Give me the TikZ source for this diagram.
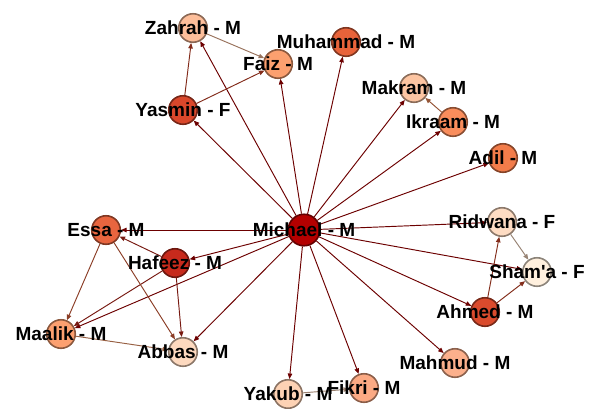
\documentclass[tikz,border=0pt]{standalone}
\usepackage{fontspec}
\setmainfont{Liberation Sans}
\usetikzlibrary{arrows.meta,backgrounds}
\definecolor{cMichael}{HTML}{B40000}
\definecolor{cHafeez}{HTML}{C72A1C}
\definecolor{cYasmin}{HTML}{D9472B}
\definecolor{cAhmed}{HTML}{DA4B2D}
\definecolor{cEssa}{HTML}{E8653F}
\definecolor{cMuhammad}{HTML}{E8633A}
\definecolor{cAdil}{HTML}{F27C4A}
\definecolor{cIkraam}{HTML}{F98D5C}
\definecolor{cFaiz}{HTML}{FCA06F}
\definecolor{cMaalik}{HTML}{FCA070}
\definecolor{cFikri}{HTML}{FCAA84}
\definecolor{cMahmud}{HTML}{FCB08C}
\definecolor{cZahrah}{HTML}{FDBE9A}
\definecolor{cMakram}{HTML}{FDC5A2}
\definecolor{cYakub}{HTML}{FDD2B4}
\definecolor{cAbbas}{HTML}{FDD9BF}
\definecolor{cRidwana}{HTML}{FEDCC3}
\definecolor{cShama}{HTML}{FFF0DE}
\tikzset{
  person/.style={circle, minimum size=28.5pt, inner sep=0pt, line width=1.6pt, fill=#1, draw=#1!55!black},
  bigperson/.style={person=#1, minimum size=31.5pt},
  lbl/.style={inner sep=0pt, font=\bfseries\fontsize{19}{21}\selectfont},
  rel/.style={line width=0.95pt, draw=#1!60!black, -{Triangle[length=5.5pt,width=4.5pt,fill=#1!60!black]}},
}
\begin{document}
\begin{tikzpicture}[x=1pt,y=-1pt]
\useasboundingbox (0,0) rectangle (593,408);
% nodes
\node[bigperson=cMichael] (Michael) at (304,230) {};
\node[person=cZahrah] (Zahrah) at (193,28) {};
\node[person=cFaiz] (Faiz) at (278,64) {};
\node[person=cMuhammad] (Muhammad) at (346,42) {};
\node[person=cYasmin] (Yasmin) at (183,110) {};
\node[person=cMakram] (Makram) at (414,88) {};
\node[person=cIkraam] (Ikraam) at (453,122) {};
\node[person=cAdil] (Adil) at (503,158) {};
\node[person=cEssa] (Essa) at (106,230) {};
\node[person=cHafeez] (Hafeez) at (175,263) {};
\node[person=cMaalik] (Maalik) at (61,334) {};
\node[person=cAbbas] (Abbas) at (183,352) {};
\node[person=cRidwana] (Ridwana) at (502,222) {};
\node[person=cShama] (Shama) at (537,272) {};
\node[person=cAhmed] (Ahmed) at (485,312) {};
\node[person=cMahmud] (Mahmud) at (455,363) {};
\node[person=cYakub] (Yakub) at (288,394) {};
\node[person=cFikri] (Fikri) at (364,388) {};
% edges (behind the circles)
\begin{scope}[on background layer]
\foreach \t in {Zahrah,Faiz,Muhammad,Yasmin,Makram,Ikraam,Adil,Essa,Hafeez,Maalik,Abbas,Ridwana,Shama,Ahmed,Mahmud,Fikri,Yakub}
  \draw[rel=cMichael] (Michael) -- (\t);
\draw[rel=cYasmin] (Yasmin) -- (Zahrah);
\draw[rel=cYasmin] (Yasmin) -- (Faiz);
\draw[rel=cZahrah] (Zahrah) -- (Faiz);
\draw[rel=cIkraam] (Ikraam) -- (Makram);
\draw[rel=cRidwana] (Ridwana) -- (Shama);
\draw[rel=cAhmed] (Ahmed) -- (Ridwana);
\draw[rel=cAhmed] (Ahmed) -- (Shama);
\draw[rel=cHafeez] (Hafeez) -- (Essa);
\draw[rel=cHafeez] (Hafeez) -- (Maalik);
\draw[rel=cHafeez] (Hafeez) -- (Abbas);
\draw[rel=cEssa] (Essa) -- (Maalik);
\draw[rel=cEssa] (Essa) -- (Abbas);
\draw[rel=cMaalik] (Maalik) -- (Abbas);
\draw[rel=cYakub] (Yakub) -- (Fikri);
\end{scope}
% labels
\node[lbl] (lMichael) at (Michael) {Michael - M};
\node[lbl] (lZahrah) at (Zahrah) {Zahrah - M};
\node[lbl] (lFaiz) at (Faiz) {Faiz - M};
\node[lbl] (lMuhammad) at (Muhammad) {Muhammad - M};
\node[lbl] (lYasmin) at (Yasmin) {Yasmin - F};
\node[lbl] (lMakram) at (Makram) {Makram - M};
\node[lbl] (lIkraam) at (Ikraam) {Ikraam - M};
\node[lbl] (lAdil) at (Adil) {Adil - M};
\node[lbl] (lEssa) at (Essa) {Essa - M};
\node[lbl] (lHafeez) at (Hafeez) {Hafeez - M};
\node[lbl] (lMaalik) at (Maalik) {Maalik - M};
\node[lbl] (lAbbas) at (Abbas) {Abbas - M};
\node[lbl] (lRidwana) at (Ridwana) {Ridwana - F};
\node[lbl] (lShama) at (Shama) {Sham\textquotesingle a - F};
\node[lbl] (lAhmed) at (Ahmed) {Ahmed - M};
\node[lbl] (lMahmud) at (Mahmud) {Mahmud - M};
\node[lbl] (lYakub) at (Yakub) {Yakub - M};
\node[lbl] (lFikri) at (Fikri) {Fikri - M};
\end{tikzpicture}
\end{document}
